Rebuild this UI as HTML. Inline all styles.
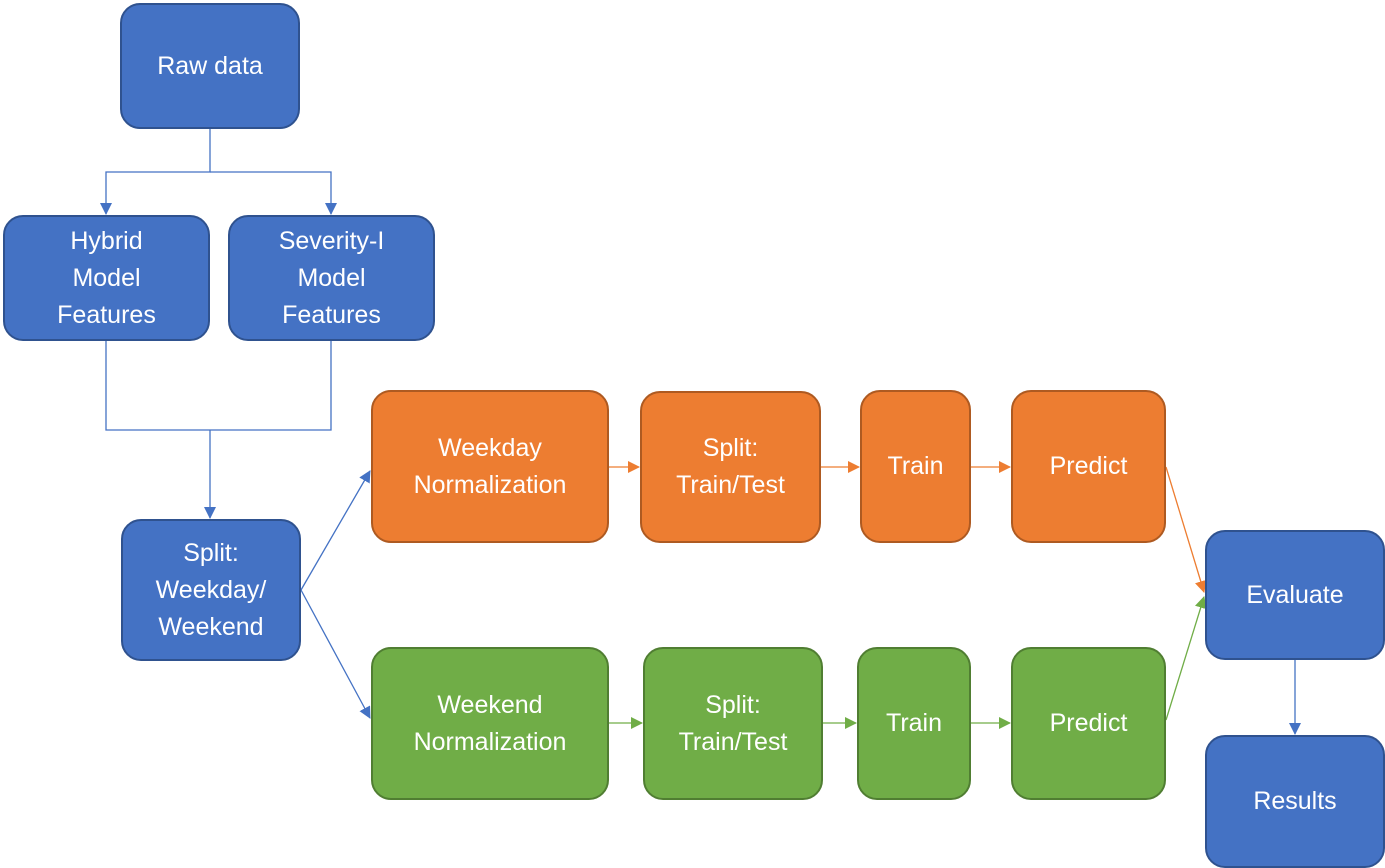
<!DOCTYPE html>
<html><head><meta charset="utf-8"><style>
body{margin:0;width:1385px;height:866px;background:#fff;position:relative;overflow:hidden;font-family:"Liberation Sans",sans-serif}
.b{position:absolute;box-sizing:border-box;border-radius:20px;display:flex;align-items:center;justify-content:center;text-align:center;color:#fff;font-size:25px;line-height:37px;border:2px solid}
.bl{background:#4472C4;border-color:#2F528F}
.or{background:#ED7D31;border-color:#AE5A21}
.gr{background:#70AD47;border-color:#507E32}
svg{position:absolute;left:0;top:0}
</style></head><body>
<svg width="1385" height="866">
<defs>
<marker id="mb" markerWidth="12" markerHeight="12" refX="11" refY="6" orient="auto" markerUnits="userSpaceOnUse"><path d="M0,0L12,6L0,12z" fill="#4472C4"/></marker>
<marker id="mo" markerWidth="12" markerHeight="12" refX="11" refY="6" orient="auto" markerUnits="userSpaceOnUse"><path d="M0,0L12,6L0,12z" fill="#ED7D31"/></marker>
<marker id="mg" markerWidth="12" markerHeight="12" refX="11" refY="6" orient="auto" markerUnits="userSpaceOnUse"><path d="M0,0L12,6L0,12z" fill="#70AD47"/></marker>
</defs>
<g stroke="#4472C4" stroke-width="1.3" fill="none">
<path d="M210,129V172H106V214" marker-end="url(#mb)"/>
<path d="M210,172H331V214" marker-end="url(#mb)"/>
<path d="M106,341V430H331V341"/>
<path d="M210,430V518" marker-end="url(#mb)"/>
<path d="M301,590L370,471" marker-end="url(#mb)"/>
<path d="M301,590L370,718" marker-end="url(#mb)"/>
<path d="M1295,660V734" marker-end="url(#mb)"/>
</g>
<g stroke="#ED7D31" stroke-width="1.3" fill="none">
<path d="M609,467H639" marker-end="url(#mo)"/>
<path d="M821,467H859" marker-end="url(#mo)"/>
<path d="M971,467H1010" marker-end="url(#mo)"/>
<path d="M1166,467L1204,592" marker-end="url(#mo)"/>
</g>
<g stroke="#70AD47" stroke-width="1.3" fill="none">
<path d="M609,723H642" marker-end="url(#mg)"/>
<path d="M823,723H856" marker-end="url(#mg)"/>
<path d="M971,723H1010" marker-end="url(#mg)"/>
<path d="M1166,720L1204,597" marker-end="url(#mg)"/>
</g>
</svg>
<div class="b bl" style="left:120px;top:3px;width:180px;height:126px">Raw data</div>
<div class="b bl" style="left:3px;top:215px;width:207px;height:126px">Hybrid<br>Model<br>Features</div>
<div class="b bl" style="left:228px;top:215px;width:207px;height:126px">Severity-I<br>Model<br>Features</div>
<div class="b bl" style="left:121px;top:519px;width:180px;height:142px">Split:<br>Weekday/<br>Weekend</div>
<div class="b or" style="left:371px;top:390px;width:238px;height:153px">Weekday<br>Normalization</div>
<div class="b or" style="left:640px;top:391px;width:181px;height:152px">Split:<br>Train/Test</div>
<div class="b or" style="left:860px;top:390px;width:111px;height:153px">Train</div>
<div class="b or" style="left:1011px;top:390px;width:155px;height:153px">Predict</div>
<div class="b gr" style="left:371px;top:647px;width:238px;height:153px">Weekend<br>Normalization</div>
<div class="b gr" style="left:643px;top:647px;width:180px;height:153px">Split:<br>Train/Test</div>
<div class="b gr" style="left:857px;top:647px;width:114px;height:153px">Train</div>
<div class="b gr" style="left:1011px;top:647px;width:155px;height:153px">Predict</div>
<div class="b bl" style="left:1205px;top:530px;width:180px;height:130px">Evaluate</div>
<div class="b bl" style="left:1205px;top:735px;width:180px;height:133px">Results</div>
</body></html>
